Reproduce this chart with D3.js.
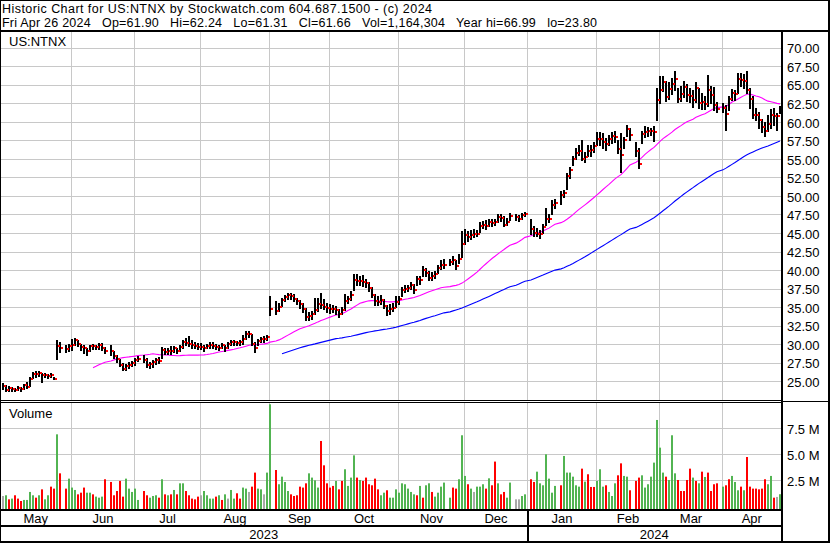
<!DOCTYPE html>
<html>
<head>
<meta charset="utf-8">
<script src="https://cdn.jsdelivr.net/npm/d3@7"></script>
<style>
  body { margin: 0; background: #fff; }
  svg { display: block; font-family: "Liberation Sans", Arial, sans-serif; }
</style>
</head>
<body>
<div id="chart"></div>
<script>
// ---- data (one entry per trading day, May 1 2023 .. Apr 26 2024) ----
const closes = [
  // May
  24.4, 23.9, 24.1, 24.0, 23.9, 24.2, 24.0, 24.5, 24.3, 25.4, 26.1, 26.0, 26.2, 25.9, 25.9, 25.8, 25.9, 25.4, 29.8, 29.5, 29.4, 29.8,
  // Jun
  29.95, 30.6, 30.05, 29.7, 29.5, 29.1, 29.8, 29.8, 29.7, 29.9, 29.6, 29.2, 29.1, 28.5, 28.0, 27.3, 26.7, 27.1, 27.3, 27.5, 27.9,
  // Jul
  28.1, 27.9, 27.3, 27.4, 27.6, 27.9, 27.8, 29.3, 29.0, 29.2, 29.1, 29.5, 29.2, 29.7, 30.3, 30.2, 30.1, 29.9, 29.8, 29.7,
  // Aug
  29.7, 29.6, 29.8, 30.0, 29.8, 29.7, 29.6, 29.9, 29.5, 30.1, 30.3, 30.3, 30.2, 30.3, 30.8, 31.5, 31.5, 30.1, 29.6, 30.5, 30.7, 30.8, 31.0,
  // Sep
  34.8, 34.6, 35.1, 36.0, 36.4, 36.7, 36.6, 36.2, 35.9, 35.5, 34.8, 33.7, 33.9, 34.1, 34.7, 35.5, 35.3, 35.1, 34.9, 34.8,
  // Oct
  34.8, 34.7, 34.1, 34.7, 35.9, 36.1, 36.7, 38.7, 38.6, 38.6, 38.5, 38.3, 37.6, 36.7, 35.9, 35.8, 36.0, 35.2, 34.5, 34.8, 35.0, 35.8,
  // Nov
  36.1, 37.4, 37.5, 37.7, 38.0, 37.4, 38.9, 38.7, 40.1, 39.7, 39.0, 39.2, 39.6, 40.3, 40.7, 40.8, 41.2, 41.4, 40.6, 41.6, 43.6,
  // Dec
  44.8, 44.5, 44.8, 45.0, 45.0, 46.0, 46.2, 46.0, 46.5, 46.4, 46.5, 47.2, 47.1, 46.2, 46.5, 47.3, 47.2, 47.0, 47.5, 47.6,
  // Jan
  45.6, 45.1, 45.0, 45.0, 45.9, 47.0, 47.0, 48.8, 49.1, 50.2, 50.4, 52.8, 53.6, 55.0, 55.9, 56.2, 55.1, 55.3, 56.2, 56.3, 56.8,
  // Feb
  57.8, 57.7, 57.3, 57.1, 57.7, 58.2, 58.0, 56.4, 55.6, 57.6, 59.1, 58.3, 56.2, 54.4, 58.4, 58.7, 58.8, 58.9, 58.7, 63.0,
  // Mar
  64.3, 65.4, 63.4, 64.5, 65.2, 65.8, 63.2, 63.8, 64.8, 63.7, 63.5, 63.0, 64.7, 62.6, 62.7, 62.5, 64.4, 63.7, 62.3, 61.8,
  // Apr
  62.0, 61.1, 63.2, 63.9, 63.8, 65.9, 65.7, 65.6, 64.4, 63.2, 61.0, 61.0, 60.3, 59.4, 58.8, 59.8, 61.0, 60.9, 60.9, 61.66
];
const highs = [
  24.8, 24.5, 24.4, 24.3, 24.2, 24.4, 24.3, 24.7, 25.0, 25.6, 26.3, 26.4, 26.4, 26.2, 26.2, 26.1, 26.2, 25.7, 30.6, 30.4, 29.9, 30.1,
  30.8, 30.9, 30.6, 30.1, 29.9, 29.6, 30.0, 30.1, 30.0, 30.2, 30.2, 29.7, 29.9, 29.2, 28.6, 28.1, 27.5, 27.4, 27.6, 27.8, 28.2,
  28.5, 28.6, 28.2, 27.7, 27.9, 28.2, 28.3, 29.7, 29.6, 29.5, 29.8, 29.8, 29.6, 29.9, 30.6, 30.9, 31.1, 30.6, 30.3, 30.2,
  30.2, 30.0, 30.1, 30.3, 30.3, 30.1, 29.9, 30.2, 30.0, 30.4, 30.6, 30.6, 30.5, 30.6, 31.3, 31.9, 31.9, 31.4, 30.3, 30.8, 31.0, 31.1, 31.3,
  36.6, 35.9, 35.6, 36.3, 36.7, 37.0, 37.0, 36.8, 36.3, 36.0, 35.6, 34.9, 34.4, 34.6, 36.3, 36.3, 37.0, 36.2, 35.6, 35.5,
  35.3, 35.2, 34.8, 35.1, 36.9, 36.5, 37.2, 39.6, 39.6, 39.2, 39.4, 38.9, 38.4, 37.8, 36.9, 36.6, 36.7, 36.2, 35.4, 35.5, 35.6, 36.5,
  36.6, 37.8, 38.0, 38.1, 38.4, 38.2, 39.2, 39.3, 40.6, 40.3, 40.0, 39.8, 40.0, 40.8, 41.4, 41.6, 41.6, 41.9, 41.4, 42.3, 45.3,
  45.6, 45.4, 45.5, 45.6, 45.5, 46.5, 46.7, 46.8, 46.9, 47.0, 46.9, 47.6, 47.6, 47.3, 47.1, 47.8, 47.6, 47.5, 47.8, 47.9,
  47.0, 46.0, 45.7, 45.5, 46.3, 48.4, 47.6, 49.5, 49.6, 50.8, 50.9, 53.2, 54.0, 55.4, 56.6, 57.0, 57.6, 56.0, 57.0, 56.9, 57.4,
  58.7, 58.7, 58.6, 57.9, 58.3, 58.7, 58.8, 57.6, 58.5, 58.0, 59.6, 59.3, 57.3, 56.5, 58.9, 59.5, 59.4, 59.2, 59.5, 64.6,
  66.3, 66.2, 65.6, 65.5, 66.0, 66.99, 64.6, 64.9, 65.6, 65.2, 64.7, 64.4, 65.4, 64.6, 63.9, 63.6, 66.4, 64.9, 64.8, 62.8,
  62.6, 62.3, 63.6, 64.5, 64.4, 66.6, 66.6, 66.5, 66.9, 64.6, 63.6, 61.9, 61.4, 60.4, 60.0, 61.0, 61.8, 61.9, 61.3, 62.24
];
const lows = [
  24.0, 23.8, 23.8, 23.8, 23.8, 23.9, 23.8, 24.0, 24.1, 24.4, 25.5, 25.7, 25.8, 25.0, 25.6, 25.5, 25.6, 25.3, 28.0, 29.0, 29.0, 29.2,
  29.3, 29.9, 29.8, 29.3, 28.9, 28.6, 29.2, 29.4, 29.4, 29.4, 29.3, 28.9, 28.6, 28.2, 27.6, 27.1, 26.6, 26.6, 26.9, 27.1, 27.2,
  27.8, 27.6, 27.0, 26.9, 27.0, 27.4, 27.5, 28.2, 28.8, 28.8, 28.8, 29.0, 28.9, 29.1, 29.6, 29.9, 29.8, 29.6, 29.5, 29.4,
  29.4, 29.2, 29.5, 29.6, 29.5, 29.4, 29.3, 29.5, 29.2, 29.6, 29.9, 29.9, 29.9, 29.9, 30.1, 30.7, 31.0, 29.9, 29.0, 29.9, 30.3, 30.4, 30.6,
  34.0, 34.2, 34.6, 35.2, 35.9, 36.2, 36.2, 35.9, 35.5, 35.0, 34.4, 33.3, 33.3, 33.4, 34.2, 34.5, 35.0, 34.8, 34.4, 34.3,
  34.4, 34.2, 33.7, 34.1, 34.7, 35.6, 36.0, 37.4, 38.1, 38.0, 37.9, 37.8, 37.2, 36.4, 35.4, 35.3, 35.5, 34.9, 34.0, 34.1, 34.5, 35.1,
  35.5, 36.6, 37.1, 37.2, 37.5, 37.0, 38.1, 38.2, 39.3, 39.3, 38.7, 38.7, 39.0, 39.7, 40.2, 40.3, 40.8, 40.9, 40.2, 41.0, 41.8,
  43.6, 44.0, 44.3, 44.5, 44.6, 45.2, 45.7, 45.6, 46.0, 46.0, 46.1, 46.5, 46.7, 46.0, 46.1, 46.8, 46.8, 46.7, 47.0, 47.3,
  45.0, 44.7, 44.6, 44.4, 45.1, 46.2, 46.5, 47.6, 48.5, 49.0, 49.9, 51.0, 52.5, 54.3, 55.1, 55.6, 54.9, 54.7, 55.4, 55.5, 56.0,
  57.0, 56.9, 56.6, 56.3, 56.9, 57.2, 57.3, 55.9, 53.3, 56.6, 58.2, 57.6, 55.5, 53.8, 57.2, 58.0, 58.1, 58.3, 57.5, 60.3,
  62.6, 64.2, 62.9, 63.1, 63.8, 64.4, 62.8, 62.9, 63.4, 62.9, 62.8, 62.1, 62.7, 61.9, 61.8, 61.8, 62.2, 62.6, 61.7, 61.4,
  61.4, 59.0, 61.6, 63.0, 63.0, 64.0, 64.9, 64.6, 64.0, 62.0, 60.6, 60.3, 59.2, 58.7, 58.1, 58.8, 59.2, 59.6, 59.0, 61.31
];
// volume in millions of shares
const volumes = [
  0.99, 1.06, 0.67, 0.74, 1.06, 0.74, 0.51, 0.61, 0.61, 1.38, 1.06, 0.83, 1.06, 1.63, 0.67, 1.06, 1.89, 1.70, 6.92, 3.17, 1.70, 2.66,
  1.80, 1.57, 1.15, 1.31, 1.80, 1.31, 1.31, 1.15, 0.93, 0.83, 0.93, 2.60, 2.34, 1.06, 1.47, 2.44, 0.93, 2.66, 1.70, 1.38, 1.70,
  0.61, 1.47, 1.06, 0.83, 0.99, 1.06, 0.83, 2.60, 1.15, 1.06, 1.15, 1.57, 1.15, 2.21, 2.21, 1.47, 1.06, 0.74, 0.67, 0.93,
  1.06, 1.47, 1.06, 0.74, 0.74, 0.93, 1.06, 0.61, 1.15, 0.74, 1.57, 0.74, 1.25, 0.74, 1.80, 1.70, 1.38, 1.89, 3.24, 1.70, 1.63, 1.15, 3.24,
  9.81, 3.49, 2.12, 2.85, 2.34, 1.47, 1.15, 0.99, 1.06, 1.89, 1.80, 2.21, 3.17, 2.76, 2.50, 1.80, 6.28, 3.94, 2.21, 1.80,
  1.96, 2.44, 1.63, 2.44, 3.56, 1.96, 2.76, 4.90, 2.76, 2.53, 2.44, 2.76, 2.12, 2.02, 2.66, 1.63, 1.06, 1.31, 1.54, 0.83, 0.83, 1.63,
  1.31, 2.21, 2.12, 1.70, 1.38, 1.15, 1.06, 1.96, 0.83, 2.02, 2.21, 1.38, 0.93, 1.31, 1.89, 2.28, 0.83, 1.80, 1.70, 2.60, 6.83,
  2.92, 2.12, 1.70, 1.38, 1.89, 1.89, 2.12, 1.70, 2.69, 2.02, 4.30, 2.21, 1.15, 1.38, 0.83, 2.28, 0.67, 0.67, 0.99, 1.15,
  2.60, 2.34, 3.33, 2.21, 2.02, 5.00, 2.66, 1.31, 1.96, 2.02, 4.84, 3.24, 3.24, 2.85, 2.02, 1.89, 3.62, 2.37, 3.08, 1.86, 1.86,
  2.44, 3.56, 1.89, 2.02, 1.38, 0.99, 2.21, 2.98, 4.13, 2.92, 2.85, 1.54, 2.44, 2.76, 2.98, 1.80, 2.12, 2.85, 4.20, 8.30,
  5.64, 3.24, 2.85, 2.53, 6.83, 3.17, 2.53, 1.47, 1.47, 2.53, 3.62, 2.76, 2.44, 2.21, 3.33, 2.82, 3.24, 1.47, 2.12, 2.21,
  1.89, 2.02, 2.60, 2.92, 2.34, 1.54, 1.89, 1.54, 4.74, 1.89, 1.70, 1.70, 1.63, 1.70, 2.60, 2.12, 2.92, 0.83, 0.90, 1.16
];
// day's move: 1 up (green volume), -1 down (red), 0 unchanged (grey)
const moves = [
  0, 1, -1, 1, -1, -1, -1, 1, 1, 1, 1, -1, 1, -1, 1, 1, -1, -1, 1, -1, -1, 1,
  1, 1, -1, -1, -1, 1, 1, -1, 1, 1, 1, -1, -1, -1, -1, -1, -1, 1, 1, 1, 1,
  1, -1, -1, 1, 1, 1, -1, 1, -1, 1, -1, 1, -1, 1, 1, -1, -1, -1, -1, -1,
  0, 1, 1, 1, 1, -1, 1, -1, 1, 0, 1, 1, -1, -1, 1, 1, 0, -1, -1, 1, 1, 0, 1,
  1, -1, 1, 1, 1, 1, -1, -1, -1, -1, -1, -1, 1, 1, 1, 1, -1, -1, -1, -1,
  -1, 1, -1, -1, 1, 1, 1, 1, -1, 1, -1, -1, -1, -1, -1, -1, 1, 1, -1, 1, 1, 1,
  1, 1, 1, 1, 1, 1, -1, 1, -1, 1, 1, -1, 1, 1, 1, 1, 1, -1, -1, 1, 1,
  1, -1, 1, 0, 1, 1, 1, -1, 1, -1, -1, 1, -1, -1, 1, 1, 0, 0, 1, 1,
  -1, -1, 1, 1, 1, 1, 1, 1, 1, -1, 1, 1, 1, 1, 1, 1, -1, 1, -1, -1, -1,
  1, 1, 1, -1, 1, 1, 1, -1, -1, 1, 1, -1, -1, -1, 1, 1, 1, 1, 1, 1,
  1, 1, -1, 1, 1, 1, -1, -1, -1, -1, -1, 1, -1, 1, -1, 1, -1, -1, -1, -1,
  1, -1, -1, 1, 1, 1, -1, 1, -1, -1, -1, -1, -1, -1, -1, 1, 1, -1, 0, 1
];
// weekday slots on the time axis that are market holidays (left empty)
const holidaySlots = [20, 35, 46, 90, 148, 170, 175, 185, 210, 239];
const weekdaySlots = 260;

const months = ['May', 'Jun', 'Jul', 'Aug', 'Sep', 'Oct', 'Nov', 'Dec', 'Jan', 'Feb', 'Mar', 'Apr'];
const monthSlots = [0, 23, 44, 66, 89, 109, 132, 154, 175, 198, 219, 240];
const years = ['2023', '2024'];
const yearSlots = [0, 175];

const priceTicks = [25, 27.5, 30, 32.5, 35, 37.5, 40, 42.5, 45, 47.5, 50, 52.5, 55, 57.5, 60, 62.5, 65, 67.5, 70];
const volTicks = [2.5, 5, 7.5];
const volTickLabels = ['2.5 M', '5.0 M', '7.5 M'];

const titleLine = 'Historic Chart for US:NTNX by Stockwatch.com 604.687.1500 - (c) 2024';
const quoteLine = 'Fri Apr 26 2024   Op=61.90   Hi=62.24   Lo=61.31   Cl=61.66   Vol=1,164,304   Year hi=66.99   lo=23.80';
const symbol = 'US:NTNX';

const maShort = 30, maLong = 90;

// ---- layout ----
const width = 830, height = 543;
const plotRight = 781;
const priceTop = 32, priceBottom = 400;
const volTop = 403, volBottom = 509;

// map trading days onto weekday slots
const slots = [];
{
  let s = 0;
  for (let i = 0; i < closes.length; i++) {
    while (holidaySlots.includes(s)) s++;
    slots.push(s);
    s++;
  }
}
const bars = closes.map((c, i) => ({
  slot: slots[i], close: c, high: highs[i], low: lows[i], vol: volumes[i], move: moves[i]
}));

const x = d3.scaleLinear().domain([0, weekdaySlots - 1]).range([2, 779]);
const y = d3.scaleLinear().domain([25, 70]).range([381.7, 48.25]);
const yv = d3.scaleLinear().domain([0, 7.5]).range([506.3, 428.3]);
const crisp = v => Math.floor(v) + 0.5;

const svg = d3.select('#chart').append('svg')
  .attr('width', width).attr('height', height);
svg.append('rect').attr('width', width).attr('height', height).attr('fill', '#fff');

const grid = svg.append('g').attr('stroke', '#c8c8c8').attr('stroke-width', 1);

// horizontal price grid
grid.selectAll('.pg').data(priceTicks).enter().append('line')
  .attr('x1', 0).attr('x2', plotRight)
  .attr('y1', d => crisp(y(d))).attr('y2', d => crisp(y(d)));
// horizontal volume grid
grid.selectAll('.vg').data(volTicks).enter().append('line')
  .attr('x1', 0).attr('x2', plotRight)
  .attr('y1', d => crisp(yv(d))).attr('y2', d => crisp(yv(d)));
// vertical month lines through both panels
const monthLines = monthSlots.slice(1);
grid.selectAll('.mg1').data(monthLines).enter().append('line')
  .attr('x1', d => crisp(x(d))).attr('x2', d => crisp(x(d)))
  .attr('y1', priceTop).attr('y2', priceBottom);
grid.selectAll('.mg2').data(monthLines).enter().append('line')
  .attr('x1', d => crisp(x(d))).attr('x2', d => crisp(x(d)))
  .attr('y1', volTop).attr('y2', volBottom);

// volume bars
const volColor = m => m > 0 ? '#52b452' : (m < 0 ? '#ff0000' : '#a8a8a8');
svg.append('g').selectAll('rect').data(bars).enter().append('rect')
  .attr('x', d => x(d.slot))
  .attr('width', 2)
  .attr('y', d => yv(d.vol))
  .attr('height', d => volBottom - yv(d.vol))
  .attr('fill', d => volColor(d.move));

// moving averages
function movingAvg(n) {
  const out = [];
  for (let i = n - 1; i < closes.length; i++) {
    out.push({ slot: slots[i], v: d3.mean(closes.slice(i - n + 1, i + 1)) });
  }
  return out;
}
const maLine = d3.line().x(d => x(d.slot) + 1).y(d => y(d.v));
svg.append('path').datum(movingAvg(maLong))
  .attr('d', maLine).attr('fill', 'none').attr('stroke', '#0000ff').attr('stroke-width', 1.1);
svg.append('path').datum(movingAvg(maShort))
  .attr('d', maLine).attr('fill', 'none').attr('stroke', '#ff00ff').attr('stroke-width', 1.1);

// price bars: 2px high-low stem, then a 2px close tick on its right
const pb = svg.append('g');
pb.selectAll('rect.stem').data(bars).enter().append('rect')
  .attr('class', 'stem')
  .attr('x', d => x(d.slot)).attr('width', 2)
  .attr('y', d => Math.round(y(d.high)))
  .attr('height', d => Math.max(2, Math.round(y(d.low)) - Math.round(y(d.high)) + 1))
  .attr('fill', '#000');
pb.selectAll('rect.tick').data(bars).enter().append('rect')
  .attr('class', 'tick')
  .attr('x', d => x(d.slot) + 2)
  .attr('y', d => Math.round(y(d.close)) - 1)
  .attr('width', 2).attr('height', 2)
  .attr('fill', '#ff0000');

// ---- frame ----
const frame = svg.append('g').attr('fill', '#000');
frame.append('rect').attr('x', 0).attr('y', 0).attr('width', width).attr('height', 1);
frame.append('rect').attr('x', 0).attr('y', 0).attr('width', 1).attr('height', height);
frame.append('rect').attr('x', 0).attr('y', 30).attr('width', width).attr('height', 2);
frame.append('rect').attr('x', width - 2).attr('y', 0).attr('width', 2).attr('height', height);
frame.append('rect').attr('x', 0).attr('y', height - 2).attr('width', width).attr('height', 2);
frame.append('rect').attr('x', plotRight).attr('y', 30).attr('width', 2).attr('height', height - 30);
frame.append('rect').attr('x', 0).attr('y', 400).attr('width', plotRight).attr('height', 1);
frame.append('rect').attr('x', 0).attr('y', 402).attr('width', plotRight).attr('height', 1);
frame.append('rect').attr('x', plotRight).attr('y', 401).attr('width', width - plotRight).attr('height', 1);
frame.append('rect').attr('x', 0).attr('y', volBottom).attr('width', plotRight).attr('height', 2);
frame.append('rect').attr('x', 0).attr('y', 525).attr('width', plotRight).attr('height', 2);
frame.append('rect').attr('x', crisp(x(yearSlots[1])) - 0.5).attr('y', volBottom)
  .attr('width', 2).attr('height', height - volBottom);

// ---- text ----
const font = { size: '13px', header: '12.5px' };
svg.append('text').attr('x', 2).attr('y', 13.2).attr('font-size', font.header)
  .attr('textLength', 430).attr('lengthAdjust', 'spacing').text(titleLine);
svg.append('text').attr('x', 2).attr('y', 27.2).attr('font-size', font.header)
  .style('white-space', 'pre').attr('textLength', 595).attr('lengthAdjust', 'spacing').text(quoteLine);
svg.append('text').attr('x', 9).attr('y', 46).attr('font-size', font.size).text(symbol);
svg.append('text').attr('x', 9).attr('y', 418.3).attr('font-size', font.size).text('Volume');

// right-hand price axis
const pAxis = svg.append('g')
  .attr('transform', `translate(${plotRight + 2},0)`)
  .call(d3.axisRight(y).tickValues(priceTicks).tickFormat(d3.format('.2f')).tickSize(0).tickPadding(4));
pAxis.select('.domain').remove();
pAxis.selectAll('text').attr('font-size', font.size).attr('font-family', 'inherit')
  .attr('fill', '#000').attr('dy', '0.36em').attr('text-anchor', 'start');

const vAxis = svg.append('g')
  .attr('transform', `translate(${plotRight + 2},0)`)
  .call(d3.axisRight(yv).tickValues(volTicks).tickFormat((d, i) => volTickLabels[i]).tickSize(0).tickPadding(4));
vAxis.select('.domain').remove();
vAxis.selectAll('text').attr('font-size', font.size).attr('font-family', 'inherit')
  .attr('fill', '#000').attr('dy', '0.38em');

// month and year labels, centred in their spans
const monthEdges = monthSlots.map((s, i) => i === 0 ? 0 : crisp(x(s))).concat([plotRight]);
svg.append('g').selectAll('text').data(months).enter().append('text')
  .attr('x', (d, i) => (monthEdges[i] + monthEdges[i + 1]) / 2)
  .attr('y', 522.6)
  .attr('text-anchor', 'middle').attr('font-size', font.size)
  .text(d => d);
const yearEdges = yearSlots.map((s, i) => i === 0 ? 0 : crisp(x(s))).concat([plotRight]);
svg.append('g').selectAll('text').data(years).enter().append('text')
  .attr('x', (d, i) => (yearEdges[i] + yearEdges[i + 1]) / 2)
  .attr('y', 539)
  .attr('text-anchor', 'middle').attr('font-size', font.size)
  .text(d => d);
</script>
</body>
</html>
